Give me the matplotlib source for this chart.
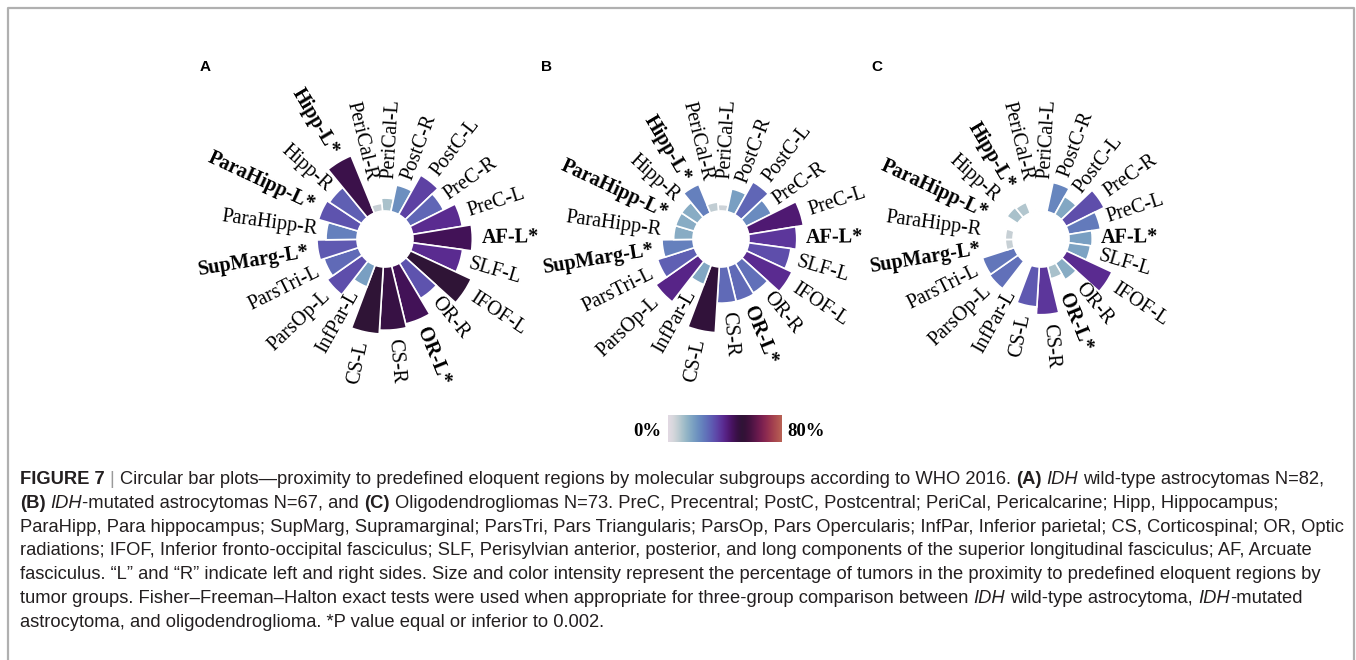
import numpy as np
import matplotlib
matplotlib.use('Agg')
import matplotlib.pyplot as plt
from matplotlib.colors import LinearSegmentedColormap, Normalize
from matplotlib.lines import Line2D

W, H = 1356, 660

# regions, clockwise from the top
regions = ['PeriCal-L', 'PostC-R', 'PostC-L', 'PreC-R', 'PreC-L', 'AF-L*', 'SLF-L',
           'IFOF-L', 'OR-R', 'OR-L*', 'CS-R', 'CS-L', 'InfPar-L', 'ParsOp-L',
           'ParsTri-L', 'SupMarg-L*', 'ParaHipp-R', 'ParaHipp-L*', 'Hipp-R',
           'Hipp-L*', 'PeriCal-R']

# % of tumours near each region
idh_wildtype = [10, 21, 35, 29, 39, 46, 39, 52, 32, 46, 49, 52, 18, 33, 28, 31, 24, 32, 30, 48, 6]
idh_mutated = [5, 18, 29, 22, 43, 37, 33, 39, 27, 28, 28, 51, 16, 40, 30, 24, 15, 15, 15, 24, 7]
oligodendro = [0, 23, 16, 33, 25, 18, 17, 39, 15, 10, 37, 31, 0, 27, 26, 6, 6, 0, 10, 9, 0]

panels = ['A', 'B', 'C']
groups = [idh_wildtype, idh_mutated, oligodendro]
centers = [(385, 239), (721, 239), (1041, 239)]   # pixel centres of the circles
letter_pos = [(200, 71), (541, 71), (871, 71)]

# colour scale 0..80 %
tw = plt.get_cmap('twilight')(np.linspace(0, 0.77, 256))
cmap = LinearSegmentedColormap.from_list('tw_part', tw)
norm = Normalize(0, 80)

K = 1.29        # pixels per percent
HOLE = 28       # inner hole radius in px
RAX = 120       # axes radius in px

plt.rcParams['font.family'] = ['Liberation Serif', 'DejaVu Serif']
fig = plt.figure(figsize=(W / 100, H / 100), dpi=100)


def fx(x):
    return x / W


def fy(y):
    return 1 - y / H


n = len(regions)
step = 360 / n
angles = 3.5 + step * np.arange(n)

for letter, vals, (cx, cy), (lx, ly) in zip(panels, groups, centers, letter_pos):
    ax = fig.add_axes([fx(cx - RAX), fy(cy + RAX), 2 * RAX / W, 2 * RAX / H], projection='polar')
    ax.set_theta_zero_location('N')
    ax.set_theta_direction(-1)
    ax.set_ylim(0, RAX / K)
    ax.set_axis_off()

    vals = np.array(vals, dtype=float)
    shown = np.maximum(vals, 1.2)     # zero bars still show as a thin stub
    ax.bar(np.radians(angles), shown, width=np.radians(step), bottom=HOLE / K,
           color=cmap(norm(vals)), edgecolor='white', linewidth=1.2, align='center')

    for name, v, a in zip(regions, vals, angles):
        r_lab = max(HOLE + K * v + 9, 60) / K
        if a < 180:
            rot, ha = 90 - a, 'left'
        else:
            rot, ha = 270 - a, 'right'
        ax.text(np.radians(a), r_lab, name, rotation=rot, rotation_mode='anchor',
                ha=ha, va='center', fontsize=14.6, family='Liberation Serif',
                fontweight='bold' if name.endswith('*') else 'normal', clip_on=False)

    fig.text(fx(lx), fy(ly), letter, fontsize=11, family='Liberation Sans',
             fontweight='bold', ha='left', va='baseline')

# colour bar
cax = fig.add_axes([fx(668), fy(442.5), 114 / W, 28 / H])
cax.imshow(np.linspace(0, 80, 256)[None, :], aspect='auto', cmap=cmap, norm=norm)
cax.set_axis_off()
fig.text(fx(661), fy(431), '0%', fontsize=13.5, family='Liberation Serif',
         fontweight='bold', ha='right', va='center')
fig.text(fx(787), fy(431), '80%', fontsize=13.5, family='Liberation Serif',
         fontweight='bold', ha='left', va='center')

# frame round the figure panel
fig.add_artist(Line2D([fx(8), fx(8), fx(1354), fx(1354)], [fy(680), fy(8), fy(8), fy(680)],
                      transform=fig.transFigure, color='#b0b0b0', lw=1.6))

# caption
caption = [
    [('FIGURE 7', 'b'), (' | ', 'g'),
     ('Circular bar plots\u2014proximity to predefined eloquent regions by molecular subgroups according to WHO 2016. ', 'n'),
     ('(A)', 'b'), (' ', 'n'), ('IDH', 'i'), (' wild-type astrocytomas N=82,', 'n')],
    [('(B)', 'b'), (' ', 'n'), ('IDH', 'i'), ('-mutated astrocytomas N=67, and ', 'n'), ('(C)', 'b'),
     (' Oligodendrogliomas N=73. PreC, Precentral; PostC, Postcentral; PeriCal, Pericalcarine; Hipp, Hippocampus;', 'n')],
    [('ParaHipp, Para hippocampus; SupMarg, Supramarginal; ParsTri, Pars Triangularis; ParsOp, Pars Opercularis; InfPar, Inferior parietal; CS, Corticospinal; OR, Optic', 'n')],
    [('radiations; IFOF, Inferior fronto-occipital fasciculus; SLF, Perisylvian anterior, posterior, and long components of the superior longitudinal fasciculus; AF, Arcuate', 'n')],
    [('fasciculus. \u201cL\u201d and \u201cR\u201d indicate left and right sides. Size and color intensity represent the percentage of tumors in the proximity to predefined eloquent regions by', 'n')],
    [('tumor groups. Fisher\u2013Freeman\u2013Halton exact tests were used when appropriate for three-group comparison between ', 'n'),
     ('IDH', 'i'), (' wild-type astrocytoma, ', 'n'), ('IDH', 'i'), ('-mutated', 'n')],
    [('astrocytoma, and oligodendroglioma. *P value equal or inferior to 0.002.', 'n')],
]
styles = {'n': dict(color='#231f20'),
          'b': dict(color='#231f20', fontweight='bold'),
          'i': dict(color='#231f20', fontstyle='italic'),
          'g': dict(color='#9a9a9a')}

renderer = fig.canvas.get_renderer()


def text_width(s, size, **kw):
    t = fig.text(0, 0, s, fontsize=size, family='Liberation Sans', **kw)
    w = t.get_window_extent(renderer).width
    t.remove()
    return w


# fit the first line to its width in the reference
full1 = ''.join(s for s, _ in caption[0])
cap_size = 12 * 1308 / text_width(full1, 12)
space_w = text_width('n n', cap_size) - text_width('nn', cap_size)

for i, segs in enumerate(caption):
    x = 20.0
    y = 484 + 23.8 * i
    for s, st in segs:
        core = s.strip(' ')
        if not core:
            x += len(s) * space_w
            continue
        x += (len(s) - len(s.lstrip(' '))) * space_w
        t = fig.text(fx(x), fy(y), core, fontsize=cap_size, family='Liberation Sans',
                     ha='left', va='baseline', **styles[st])
        x += t.get_window_extent(renderer).width
        x += (len(s) - len(s.rstrip(' '))) * space_w

fig.savefig('out.png', dpi=100)
